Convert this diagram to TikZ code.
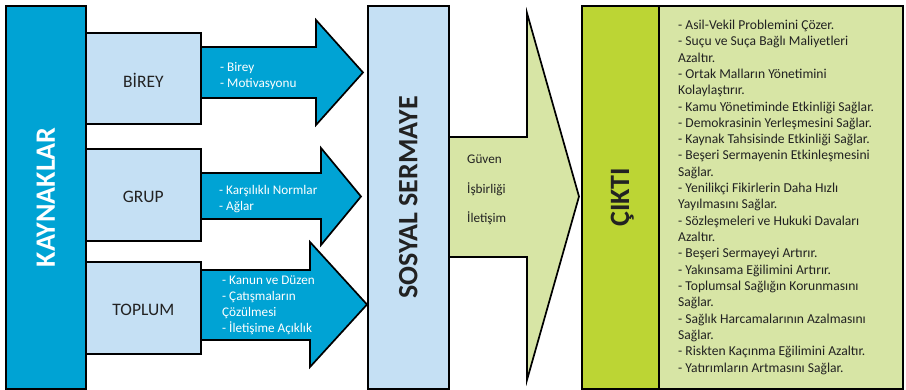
\documentclass[tikz,border=0pt]{standalone}
\usepackage{fontspec}
\setmainfont{Carlito}
\definecolor{kblue}{HTML}{00A3D4}
\definecolor{lblue}{HTML}{C5E0F4}
\definecolor{lgreen}{HTML}{D7E5A5}
\definecolor{bgreen}{HTML}{BCD534}
\definecolor{ink}{HTML}{222222}
\begin{document}
\begin{tikzpicture}[x=1pt,y=-1pt,
  outline/.style={draw=black, line width=1.7pt, line join=miter},
  box/.style={outline, anchor=north west, inner sep=0pt},
  boxlabel/.style={text=ink, font=\fontsize{17.5}{20}\selectfont},
  biglabel/.style={rotate=90, font=\bfseries\fontsize{28}{32}\selectfont},
  arrowtxt/.style={anchor=base west, inner sep=0pt, text=white, font=\fontsize{13.2}{16}\selectfont},
  greentxt/.style={anchor=base west, inner sep=0pt, text=ink, font=\fontsize{13.2}{16}\selectfont},
  listtxt/.style={anchor=base west, inner sep=0pt, text=ink, font=\fontsize{13.6}{16}\selectfont}]
\useasboundingbox (0,0) rectangle (906,390);

% block arrows
\path[outline, fill=kblue] (200,47) -- (316,47) -- (316,20) -- (363,72.5) -- (316,125) -- (316,98) -- (200,98) -- cycle;
\path[outline, fill=kblue] (200,173) -- (321,173) -- (321,148) -- (361,196.5) -- (321,245) -- (321,219) -- (200,219) -- cycle;
\path[outline, fill=kblue] (200,270) -- (310,270) -- (310,242) -- (367,304.5) -- (310,367) -- (310,340) -- (200,340) -- cycle;
\path[outline, fill=lgreen] (448,137) -- (527,137) -- (527,13) -- (579,196.5) -- (527,380) -- (527,257) -- (448,257) -- cycle;

% boxes
\node[box, fill=kblue, minimum width=80pt, minimum height=383pt] (kay) at (5,5) {};
\node[biglabel, text=white] (kayt) at (kay.center) {KAYNAKLAR};

\node[box, fill=lblue, minimum width=115pt, minimum height=91pt] (birey) at (85,32) {};
\node[boxlabel] (bireyt) at ([yshift=-2pt]birey.center) {BİREY};
\node[box, fill=lblue, minimum width=115pt, minimum height=92pt] (grup) at (85,148) {};
\node[boxlabel] (grupt) at ([yshift=-2pt]grup.center) {GRUP};
\node[box, fill=lblue, minimum width=115pt, minimum height=92pt] (toplum) at (85,261) {};
\node[boxlabel] (toplumt) at ([yshift=-2pt]toplum.center) {TOPLUM};

\node[box, fill=lblue, minimum width=81pt, minimum height=383pt] (sos) at (367,5) {};
\node[biglabel, text=ink] (sost) at (sos.center) {SOSYAL SERMAYE};

\node[box, fill=bgreen, minimum width=77pt, minimum height=383pt] (cikti) at (581,5) {};
\node[biglabel, text=ink] (ciktit) at ([xshift=2pt]cikti.center) {ÇIKTI};

\node[box, fill=lgreen, minimum width=244pt, minimum height=383pt] (list) at (658,5) {};

% arrow texts
\node[arrowtxt] (a1) at (220,72) {- Birey};
\node[arrowtxt] (a2) at (220,88) {- Motivasyonu};
\node[arrowtxt] (a3) at (219,195) {- Karşılıklı Normlar};
\node[arrowtxt] (a4) at (219,211) {- Ağlar};
\node[arrowtxt] (a5) at (222,285) {- Kanun ve Düzen};
\node[arrowtxt] (a6) at (222,301) {- Çatışmaların};
\node[arrowtxt] (a7) at (222,317) {Çözülmesi};
\node[arrowtxt] (a8) at (222,333) {- İletişime Açıklık};

\node[greentxt] (g1) at (467,164) {Güven};
\node[greentxt] (g2) at (467,194) {İşbirliği};
\node[greentxt] (g3) at (467,223) {İletişim};

% output list
\foreach \t [count=\i] in {
 - Asil-Vekil Problemini Çözer.,
 - Suçu ve Suça Bağlı Maliyetleri,
 Azaltır.,
 - Ortak Malların Yönetimini,
 Kolaylaştırır.,
 - Kamu Yönetiminde Etkinliği Sağlar.,
 - Demokrasinin Yerleşmesini Sağlar.,
 - Kaynak Tahsisinde Etkinliği Sağlar.,
 - Beşeri Sermayenin Etkinleşmesini,
 Sağlar.,
 - Yenilikçi Fikirlerin Daha Hızlı,
 Yayılmasını Sağlar.,
 - Sözleşmeleri ve Hukuki Davaları,
 Azaltır.,
 - Beşeri Sermayeyi Artırır.,
 - Yakınsama Eğilimini Artırır.,
 - Toplumsal Sağlığın Korunmasını,
 Sağlar.,
 - Sağlık Harcamalarının Azalmasını,
 Sağlar.,
 - Riskten Kaçınma Eğilimini Azaltır.,
 - Yatırımların Artmasını Sağlar.}
 \node[listtxt] (l\i) at (678,{29.5+16.31*(\i-1)}) {\t};
\end{tikzpicture}
\end{document}
